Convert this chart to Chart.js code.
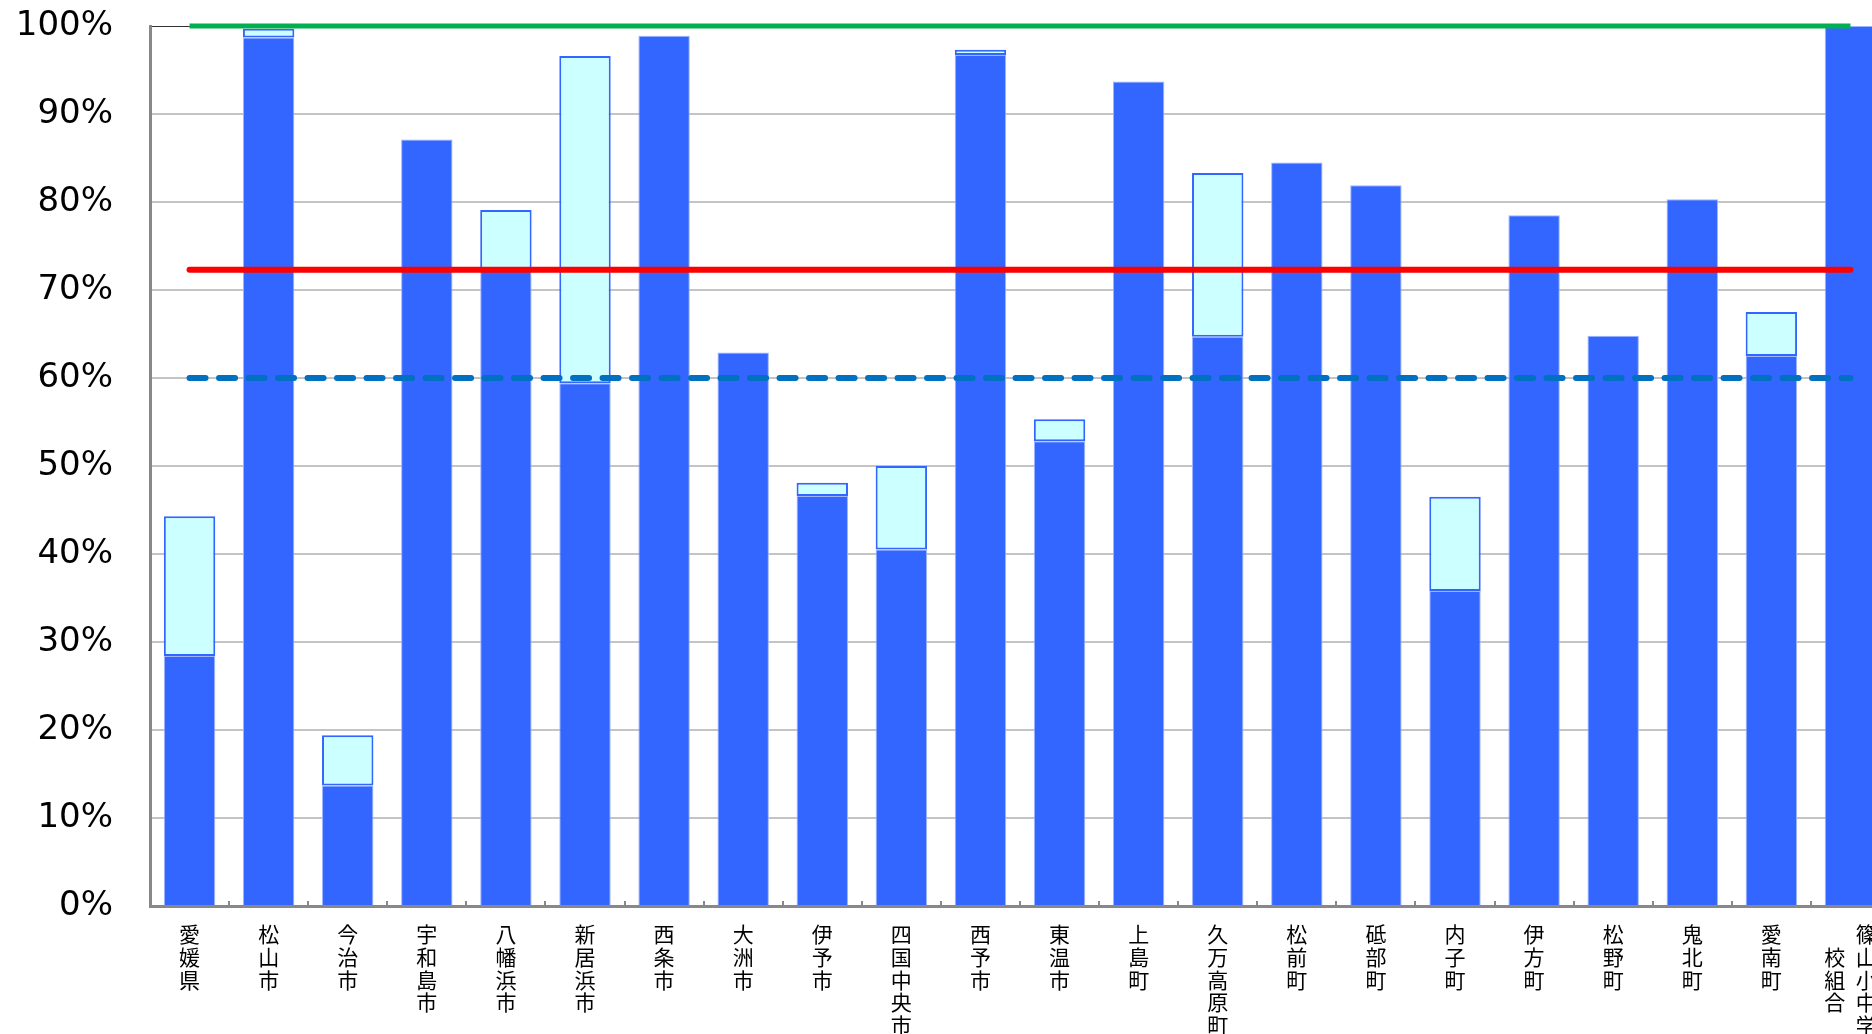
<!DOCTYPE html>
<html lang="ja">
<head>
<meta charset="utf-8">
<title>愛媛県 市町別</title>
<script src="https://cdn.jsdelivr.net/npm/chart.js@4.4.1/dist/chart.umd.min.js"></script>
<style>
  html, body { margin: 0; padding: 0; background: #fff; overflow: hidden; }
  #wrap { width: 1890px; height: 1034px; }
</style>
</head>
<body>
<div id="wrap"><canvas id="chart"></canvas></div>
<script>
const areas = [
  '愛媛県', '松山市', '今治市', '宇和島市', '八幡浜市', '新居浜市', '西条市', '大洲市',
  '伊予市', '四国中央市', '西予市', '東温市', '上島町', '久万高原町', '松前町', '砥部町',
  '内子町', '伊方町', '松野町', '鬼北町', '愛南町', '篠山小中学校組合'
];

// dark part (bottom) and top of the light part, in %
const rateDone = [28.4, 98.7, 13.7, 87.1, 72.2, 59.4, 98.9, 62.9, 46.6, 40.5, 96.7,
                  52.8, 93.7, 64.7, 84.5, 81.9, 35.8, 78.5, 64.8, 80.3, 62.5, 100];
const rateTotal = [44.3, 99.7, 19.4, null, 79.1, 96.6, null, null, 48.1, 50.0, 97.3,
                   55.3, null, 83.3, null, null, 46.5, null, null, null, 67.5, null];

const goalRate = 100;
const avgRate = 72.3;
const minRate = 60;

const yTicks = [0, 10, 20, 30, 40, 50, 60, 70, 80, 90, 100];

// vertical labels: one character per row, long names wrap into a second column
function verticalLabel(name) {
  const chars = name.split('');
  if (chars.length <= 5) return chars;
  const right = chars.slice(0, 5);
  const left = chars.slice(5);
  return right.map((c, i) => (left[i - 1] || '\u3000') + '\u2002' + c);
}

const labels = areas.map(verticalLabel);
const lineOf = v => areas.map(() => v);

new Chart(document.getElementById('chart'), {
  type: 'bar',
  data: {
    labels: labels,
    datasets: [
      {
        type: 'line',
        data: lineOf(goalRate),
        borderColor: '#00b050',
        borderWidth: 5,
        pointRadius: 0,
        clip: false,
        order: 0,
      },
      {
        type: 'line',
        data: lineOf(avgRate),
        borderColor: '#ff0000',
        borderWidth: 6,
        pointRadius: 0,
        borderCapStyle: 'round',
        order: 0,
      },
      {
        type: 'line',
        data: lineOf(minRate),
        borderColor: '#0070c0',
        borderWidth: 6,
        borderDash: [16, 13.5],
        borderCapStyle: 'round',
        pointRadius: 0,
        order: 0,
      },
      {
        data: rateTotal.map((v, i) => v == null ? null : [rateDone[i], v]),
        backgroundColor: '#ccffff',
        borderColor: '#3366ff',
        borderWidth: 2,
        borderSkipped: false,
        grouped: false,
        order: 1,
      },
      {
        data: rateDone,
        backgroundColor: '#3366ff',
        borderColor: '#9db4ff',
        borderWidth: 1,
        borderSkipped: 'bottom',
        grouped: false,
        order: 2,
      },
    ]
  },
  options: {
    responsive: true,
    maintainAspectRatio: false,
    animation: false,
    events: [],
    layout: { padding: { top: 26, left: 0, right: 0, bottom: 0 } },
    datasets: {
      bar: { categoryPercentage: 1, barPercentage: 0.65 }
    },
    plugins: {
      legend: { display: false },
      tooltip: { enabled: false }
    },
    scales: {
      x: {
        offset: true,
        grid: {
          display: true,
          drawOnChartArea: false,
          drawTicks: true,
          tickLength: -5,
          color: '#888888',
          lineWidth: 2,
        },
        border: { display: true, color: '#888888', width: 3 },
        ticks: {
          autoSkip: false,
          maxRotation: 0,
          minRotation: 0,
          padding: 22,
          color: '#000',
          font: { family: '"Noto Sans CJK JP", sans-serif', size: 21, lineHeight: 1.08 },
        },
        afterFit: scale => {
          scale.height = 128;
          scale.paddingLeft = 0;
          scale.paddingRight = 0;
        }
      },
      y: {
        min: 0,
        max: 100,
        afterBuildTicks: scale => {
          scale.ticks = yTicks.map(v => ({ value: v }));
        },
        grid: {
          drawTicks: false,
          color: ctx => ctx.tick && ctx.tick.value === 100 ? '#333333' : '#c4c4c4',
          lineWidth: ctx => ctx.tick && ctx.tick.value === 100 ? 1 : 2,
        },
        border: { display: true, color: '#888888', width: 3 },
        ticks: {
          padding: 37,
          color: '#000',
          font: { family: '"DejaVu Sans", Verdana, sans-serif', size: 34 },
          callback: v => v + '%',
        },
        afterFit: scale => {
          scale.width = 150;
          scale.paddingTop = 0;
          scale.paddingBottom = 0;
        }
      }
    }
  }
});
</script>
</body>
</html>
